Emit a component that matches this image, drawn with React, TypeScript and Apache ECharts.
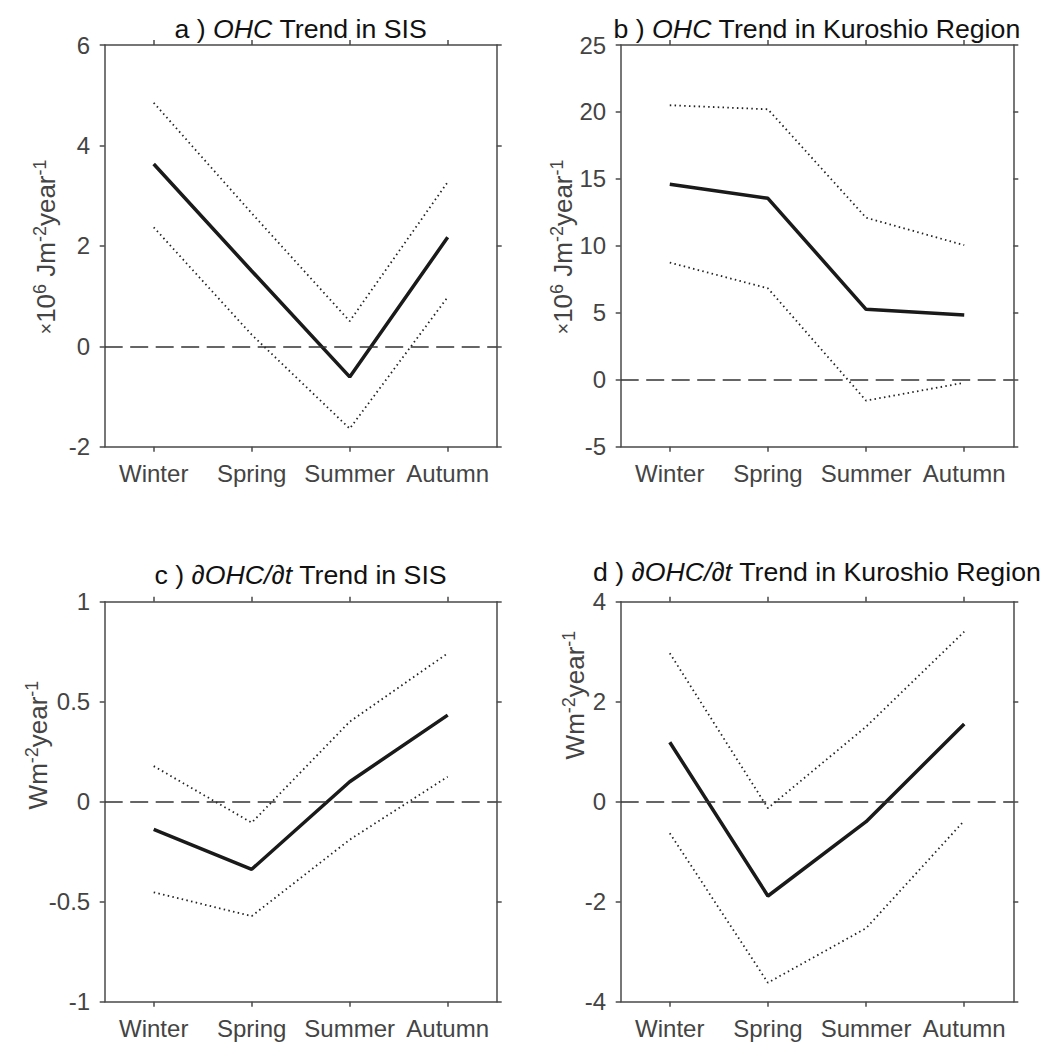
import React, { useEffect, useRef } from 'react';
import * as echarts from 'echarts';

const seasons = ['Winter', 'Spring', 'Summer', 'Autumn'];

const aMean = [3.63, 1.5, -0.61, 2.17];
const aUpper = [4.85, 2.65, 0.5, 3.27];
const aLower = [2.37, 0.23, -1.64, 0.98];

const bMean = [14.6, 13.55, 5.26, 4.84];
const bUpper = [20.5, 20.2, 12.1, 10.05];
const bLower = [8.75, 6.83, -1.56, -0.22];

const cMean = [-0.138, -0.338, 0.1, 0.433];
const cUpper = [0.178, -0.105, 0.4, 0.742];
const cLower = [-0.453, -0.572, -0.19, 0.125];

const dMean = [1.19, -1.886, -0.4, 1.554];
const dUpper = [2.97, -0.13, 1.5, 3.4];
const dLower = [-0.63, -3.62, -2.53, -0.38];

const titleA = '{n|a ) }{i|OHC}{n| Trend in SIS}';
const titleB = '{n|b ) }{i|OHC}{n| Trend in Kuroshio Region}';
const titleC = '{n|c ) }{i|∂OHC/∂t}{n| Trend in SIS}';
const titleD = '{n|d ) }{i|∂OHC/∂t}{n| Trend in Kuroshio Region}';
const ylabOHC = '{x|×}{n|10}{s|6}{n| Jm}{s|-2}{n|year}{s|-1}';
const ylabFlux = '{n|Wm}{s|-2}{n|year}{s|-1}';

const FONT = '"Liberation Sans", Arial, Helvetica, sans-serif';
const AX = '#4a4a4a';
const LBL = '#444444';

export default function App() {
  const ref = useRef<HTMLDivElement>(null);
  useEffect(() => {
    if (!ref.current) return;
    const chart = echarts.init(ref.current, null, { renderer: 'svg' });

    const panels = [
      { grid: { left: 104.7, top: 45, width: 392, height: 401.7 }, min: -2, max: 6, interval: 2, mean: aMean, upper: aUpper, lower: aLower },
      { grid: { left: 620.7, top: 45, width: 392.6, height: 401.7 }, min: -5, max: 25, interval: 5, mean: bMean, upper: bUpper, lower: bLower },
      { grid: { left: 104.7, top: 601.7, width: 392, height: 400 }, min: -1, max: 1, interval: 0.5, mean: cMean, upper: cUpper, lower: cLower },
      { grid: { left: 620.7, top: 601.7, width: 392.6, height: 400 }, min: -4, max: 4, interval: 2, mean: dMean, upper: dUpper, lower: dLower },
    ];

    const grids: any[] = [];
    const xAxes: any[] = [];
    const yAxes: any[] = [];
    const series: any[] = [];

    panels.forEach((p, i) => {
      grids.push({ ...p.grid, containLabel: false });
      const axisLine = { show: true, onZero: false, lineStyle: { color: AX, width: 1.5 } };
      const axisTick = { show: true, inside: false, length: 5, lineStyle: { color: AX, width: 1.5 } };
      xAxes.push({
        type: 'category', gridIndex: i, data: seasons, position: 'bottom', boundaryGap: true,
        axisLine, axisTick: { ...axisTick, alignWithLabel: true },
        axisLabel: { color: LBL, fontSize: 24, fontFamily: FONT, margin: 15, interval: 0 },
        splitLine: { show: false },
      });
      xAxes.push({
        type: 'category', gridIndex: i, data: seasons, position: 'top', boundaryGap: true,
        axisLine, axisTick: { ...axisTick, alignWithLabel: true },
        axisLabel: { show: false }, splitLine: { show: false },
      });
      yAxes.push({
        type: 'value', gridIndex: i, min: p.min, max: p.max, interval: p.interval, position: 'left',
        axisLine, axisTick,
        axisLabel: { color: LBL, fontSize: 24, fontFamily: FONT, margin: 14.5 },
        splitLine: { show: false },
      });
      yAxes.push({
        type: 'value', gridIndex: i, min: p.min, max: p.max, interval: p.interval, position: 'right',
        axisLine, axisTick, axisLabel: { show: false }, splitLine: { show: false },
      });
      const xi = i * 2;
      const yi = i * 2;
      series.push({
        type: 'line', xAxisIndex: xi, yAxisIndex: yi, data: p.upper, symbol: 'none',
        lineStyle: { color: '#222', width: 1.8, type: [1.5, 3.3] }, z: 2,
        markLine: {
          silent: true, symbol: 'none', label: { show: false },
          lineStyle: { color: '#333', width: 1.5, type: [18, 7.5] },
          data: [{ yAxis: 0 }],
        },
      });
      series.push({
        type: 'line', xAxisIndex: xi, yAxisIndex: yi, data: p.lower, symbol: 'none',
        lineStyle: { color: '#222', width: 1.8, type: [1.5, 3.3] }, z: 2,
      });
      series.push({
        type: 'line', xAxisIndex: xi, yAxisIndex: yi, data: p.mean, symbol: 'none',
        lineStyle: { color: '#1a1a1a', width: 3.5 }, z: 3,
      });
    });

    const TF = 26.7;
    const titleRich = {
      n: { fontSize: TF, fontFamily: FONT, fill: '#111' },
      i: { fontSize: TF, fontFamily: FONT, fontStyle: 'italic', fill: '#111' },
    };
    const ylRich = {
      x: { fontSize: 20, fontFamily: FONT, fill: LBL, lineHeight: 30, verticalAlign: 'middle' },
      n: { fontSize: 26, fontFamily: FONT, fill: LBL, lineHeight: 30, verticalAlign: 'middle' },
      s: { fontSize: 18, fontFamily: FONT, fill: LBL, lineHeight: 18, verticalAlign: 'top' },
    };
    const mkTitle = (text: string, x: number, y: number) => ({
      type: 'text', x, y, silent: true,
      style: { text, rich: titleRich, align: 'center', verticalAlign: 'middle', fontSize: TF, fontFamily: FONT, fill: '#111' },
    });
    const mkYLab = (text: string, x: number, y: number) => ({
      type: 'text', x, y, rotation: Math.PI / 2, silent: true,
      style: { text, rich: ylRich, align: 'center', verticalAlign: 'middle', fontSize: 26, fontFamily: FONT, fill: LBL },
    });

    chart.setOption({
      animation: false,
      backgroundColor: '#ffffff',
      grid: grids,
      xAxis: xAxes,
      yAxis: yAxes,
      series,
      graphic: [
        mkTitle(titleA, 300.7, 29),
        mkTitle(titleB, 817, 29),
        mkTitle(titleC, 300.7, 575),
        mkTitle(titleD, 817, 572),
        mkYLab(ylabOHC, 46, 247),
        mkYLab(ylabOHC, 563, 247),
        mkYLab(ylabFlux, 38, 745),
        mkYLab(ylabFlux, 575, 695),
      ],
    });
    return () => chart.dispose();
  }, []);
  return <div ref={ref} style={{ position: 'fixed', left: 0, top: 0, width: 1045, height: 1046, background: '#fff' }} />;
}
